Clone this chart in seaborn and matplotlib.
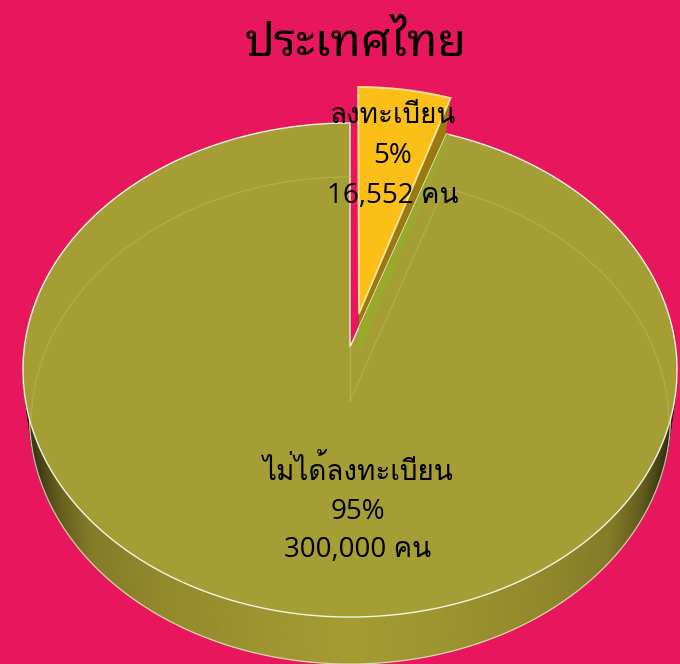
import numpy as np
import seaborn as sns
import matplotlib
matplotlib.use('Agg')
import matplotlib.pyplot as plt

# Data
title = 'ประเทศไทย'
categories = ['ลงทะเบียน', 'ไม่ได้ลงทะเบียน']
people = [16552, 300000]
percent_labels = ['5%', '95%']
people_labels = ['16,552 คน', '300,000 คน']
explode = [0.14, 0]

# Colours
bg = '#E8165D'
slice_colors = ['#FBBF18', '#A59E35']

sns.set_theme(style='white')
plt.rcParams['font.family'] = ['Open Sans', 'Loma', 'DejaVu Sans']

W, H = 680, 664
fig = plt.figure(figsize=(W / 100, H / 100), dpi=100, facecolor=bg)
ax = fig.add_axes([0, 0, 1, 1])

# let the pie work out the slice angles, then redraw them in perspective
wedges, _ = ax.pie(people, explode=explode, startangle=90, counterclock=False, radius=1)
geom = [(w.theta1, w.theta2, w.center) for w in wedges]
for w in wedges:
    w.remove()
ax.set_aspect('auto')
ax.set_xlim(0, W)
ax.set_ylim(H, 0)
ax.axis('off')


def persp(u, v):
    w = 1 + 0.0931 * v
    return 350 + 325.6 * u / w, 347 - 244.9 * v / w


def slice_outline(theta1, theta2, center, stretch=1.0, squeeze=1.0, shift=0.0):
    t = np.radians(np.linspace(theta1, theta2, 300))
    u = np.r_[center[0], center[0] + squeeze * np.cos(t)] + shift
    v = np.r_[center[1], center[1] + stretch * np.sin(t)]
    return persp(u, v)


# front wall of the big slice
phi = np.radians(np.linspace(185.3, 354.7, 500))
x_top, y_top = persp(np.cos(phi), np.sin(phi))
x_low = 350 + (x_top - 350) * 0.98
y_low = y_top + 47
wall = np.array(matplotlib.colors.to_rgb('#A59C32'))
for i in range(len(phi) - 1):
    f = abs(x_top[i] - 350) / 327
    shade = np.interp(f, [0, 0.25, 0.6, 0.8, 0.9, 0.96, 1.0], [1.0, 0.96, 0.88, 0.8, 0.6, 0.4, 0.25])
    ax.fill([x_top[i], x_top[i + 1], x_low[i + 1], x_low[i]],
            [y_top[i], y_top[i + 1], y_low[i + 1], y_low[i]],
            color=wall * shade, lw=0.6, zorder=1)
ax.plot(x_low, y_low, color='#EFEFD8', lw=0.9, alpha=0.75, zorder=2)

# small slice: side face, then top
xs, ys = slice_outline(*geom[0], stretch=1.04, squeeze=0.97, shift=0.005)
xa, ya = xs[0], ys[0]
corner = int(np.argmax(xs))
side_x = [xa, xs[corner], xa + (xs[corner] - xa) * 0.94, xa]
side_y = [ya, ys[corner], ys[corner] + 42, ya + 42]
ax.fill(side_x, side_y, color='#9A7A10', lw=0, zorder=2)
ax.fill(xs, ys, facecolor=slice_colors[0], edgecolor='#F8E59A', lw=1.3, zorder=3)

# big slice top
xm, ym = slice_outline(*geom[1])
main = ax.fill(xm, ym, facecolor=slice_colors[1], edgecolor='#F4F4E4', lw=1.0, zorder=4)[0]

# small slice's side seen through the big one
band_x = [xa, xs[corner], xa + (xs[corner] - xa) * 0.98, xa]
band = ax.fill(band_x, side_y, color='#9AA82E', lw=0, zorder=5)[0]
band.set_clip_path(main)

# faint back rim seen through the top
t = np.radians(np.linspace(geom[1][0], geom[1][1], 600))
xb, yb = persp(np.cos(t), np.sin(t))
keep = np.sin(t) > -0.12
xb = 350 + (xb - 350) * 0.975
back = ax.plot(np.where(keep, xb, np.nan), np.where(keep, yb + 54, np.nan),
               color='#B4B455', lw=0.9, alpha=0.7, zorder=5)[0]
back.set_clip_path(main)
cx, cy = persp(0, 0)
for i in [0, -1]:
    line = ax.plot([cx, xb[i]], [cy + 54, yb[i] + 54], color='#B4B455', lw=0.9, alpha=0.7, zorder=5)[0]
    line.set_clip_path(main)
ax.plot([cx, cx], [cy, cy + 54], color='#B4B455', lw=0.9, alpha=0.7, zorder=5)

# text
ax.text(355.5, 44, title, fontsize=33.5, color='black', ha='center', va='center',
        family=['Noto Sans Thai Looped', 'DejaVu Sans'], zorder=6)
label_x = [393, 358]
label_y = [[116, 156, 196], [471, 512, 550]]
for k in range(2):
    lines = [categories[k], percent_labels[k], people_labels[k]]
    for s, y in zip(lines, label_y[k]):
        ax.text(label_x[k], y, s, fontsize=20, color='black', ha='center', va='center', zorder=6)

fig.savefig('out.png', dpi=100, facecolor=bg)
